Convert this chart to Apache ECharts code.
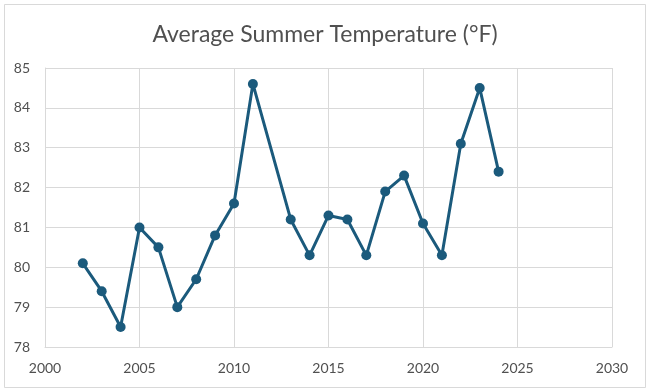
<!DOCTYPE html>
<html><head><meta charset="utf-8">
<script src="https://cdn.jsdelivr.net/npm/echarts@6/dist/echarts.min.js"></script>
<style>html,body{margin:0;padding:0;background:#fff}#c{width:650px;height:391px}</style>
</head><body><div id="c"></div>
<script>
const years = [2002,2003,2004,2005,2006,2007,2008,2009,2010,2011,2013,2014,2015,2016,2017,2018,2019,2020,2021,2022,2023,2024];
const temps = [80.1,79.4,78.5,81.0,80.5,79.0,79.7,80.8,81.6,84.6,81.2,80.3,81.3,81.2,80.3,81.9,82.3,81.1,80.3,83.1,84.5,82.4];
const titleText = 'Average Summer Temperature (°F)';

const chart = echarts.init(document.getElementById('c'));
chart.setOption({
  backgroundColor:'#fff',
  animation:false,
  title:{text:titleText,left:'center',top:18,textStyle:{fontFamily:'Lato',fontWeight:'normal',fontSize:23,color:'#505050'}},
  graphic:[{type:'rect',shape:{x:4.5,y:4.5,width:641,height:383},style:{fill:'none',stroke:'#d9d9d9',lineWidth:1}}],
  grid:{left:45,right:38,top:68,bottom:44},
  xAxis:{type:'value',min:2000,max:2030,interval:5,
    axisLine:{show:true,lineStyle:{color:'#d9d9d9'}},axisTick:{show:false},
    axisLabel:{color:'#505050',fontSize:14,fontFamily:'Lato',margin:14,formatter:v=>String(v)},
    splitLine:{show:true,lineStyle:{color:'#d9d9d9'}}},
  yAxis:{type:'value',min:78,max:85,interval:1,
    axisLine:{show:true,lineStyle:{color:'#d9d9d9'}},axisTick:{show:false},
    axisLabel:{color:'#505050',fontSize:14,fontFamily:'Lato',margin:15},
    splitLine:{show:true,lineStyle:{color:'#d9d9d9'}}},
  series:[{type:'line',data:years.map((y,i)=>[y,temps[i]]),
    symbol:'circle',symbolSize:10,
    lineStyle:{color:'#1b5a7c',width:3},
    itemStyle:{color:'#1b5a7c'}}]
});
</script></body></html>
